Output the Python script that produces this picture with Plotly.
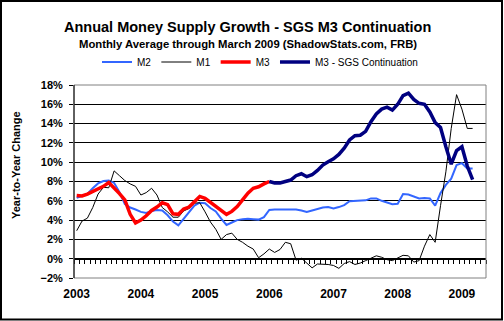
import plotly.graph_objects as go

# month index 0 = Jan 2003 ... 74 = Mar 2009
year_labels = ["2003", "2004", "2005", "2006", "2007", "2008", "2009"]
year_tick_months = [0, 12, 24, 36, 48, 60, 72]

m2 = [6.3, 6.5, 6.7, 7.3, 7.8, 8.05, 8.1, 7.85, 6.9, 5.65,
      5.3, 5.1, 4.85, 4.75, 4.95, 5.05, 5.0, 4.5, 3.85, 3.45,
      4.1, 4.85, 5.5, 5.8, 5.75, 5.25, 4.9, 4.15, 3.5, 3.75,
      4.0, 4.1, 4.15, 4.1, 4.05, 4.3, 5.05, 5.1, 5.1, 5.15,
      5.15, 5.1, 5.0, 4.85, 5.0, 5.15, 5.3, 5.35, 5.2, 5.35,
      5.55, 5.95, 6.0, 6.0, 6.05, 6.25, 6.25, 6.0, 5.8, 5.65,
      5.7, 6.7, 6.65, 6.45, 6.25, 6.3, 6.25, 5.5, 6.8, 7.65,
      8.3, 9.7, 9.9, 9.35, 9.35]

m1 = [2.9, 3.9, 4.2, 5.3, 6.7, 7.4, 7.35, 9.1, 8.6, 8.1,
      7.75, 7.5, 6.6, 6.85, 7.3, 6.6, 5.3, 4.85, 4.3, 4.3,
      4.95, 5.2, 5.75, 5.8, 4.85, 3.8, 3.05, 2.0, 2.5, 2.65,
      2.0, 1.7, 1.3, 1.0, 0.1, 0.5, 1.0, 0.65, 0.95, 1.7,
      1.55, -0.15, 0.05, -0.45, -0.95, -0.55, -0.55, -0.6, -0.7, -1.0,
      -0.5, -0.3, -0.6, -0.45, -0.2, 0.05, 0.3, 0.15, -0.1, -0.2,
      0.1, 0.35, 0.3, -0.35, -0.2, 1.3, 2.5, 1.7, 5.5, 9.0,
      13.5, 17.0, 15.5, 13.5, 13.5]

m3 = [6.55, 6.5, 6.7, 6.95, 7.2, 7.5, 7.9, 7.35, 6.75, 6.1,
      4.6, 3.7, 4.0, 4.45, 5.0, 5.35, 5.8, 5.6, 4.65, 4.6,
      5.15, 5.35, 5.95, 6.45, 6.25, 5.85, 5.45, 5.05, 4.6, 4.9,
      5.4, 6.1, 6.8, 7.3, 7.45, 7.75, 8.0]

sgs_start = 36
sgs = [8.0, 7.85, 7.85, 8.0, 8.15, 8.6, 8.8, 8.5, 8.7, 9.15,
       9.7, 10.05, 10.35, 10.8, 11.45, 12.3, 12.75, 12.8, 13.2, 14.2,
       15.0, 15.5, 15.7, 15.4, 16.0, 16.9, 17.15, 16.5, 16.1, 16.0,
       15.2, 14.1, 13.6, 11.6, 9.8, 11.2, 11.6, 9.6, 8.2]

series_names = ["M2", "M1", "M3", "M3 - SGS Continuation"]
series_colors = ["#3366FF", "#000000", "#FF0000", "#000080"]
series_widths = [2, 1, 3.5, 3.5]

FONT = "Liberation Sans, Arial, sans-serif"

fig = go.Figure()
data = [
    (list(range(len(m2))), m2),
    (list(range(len(m1))), m1),
    (list(range(len(m3))), m3),
    (list(range(sgs_start, sgs_start + len(sgs))), sgs),
]
for (xs, ys), name, col, w in zip(data, series_names, series_colors, series_widths):
    fig.add_trace(go.Scatter(x=xs, y=ys, mode="lines", name=name,
                             line=dict(color=col, width=w)))

L, R, T, B = 74, 486, 85, 278
W, H = 504, 321
pw, ph = R - L, B - T

def px_x(p):
    return (p - L) / pw

def px_y(p):
    return (B - p) / ph

fig.update_layout(
    width=W, height=H,
    margin=dict(l=L, r=W - R, t=T, b=H - B),
    paper_bgcolor="white", plot_bgcolor="white",
    font=dict(family=FONT, color="black"),
    showlegend=True,
    legend=dict(orientation="h", x=px_x(260), xanchor="center",
                y=px_y(62), yanchor="middle",
                font=dict(size=10, family=FONT),
                bgcolor="rgba(0,0,0,0)", itemwidth=30, tracegroupgap=0),
    xaxis=dict(
        range=[-0.5, 76.5],
        anchor="free", position=0.1,
        tickmode="array", tickvals=year_tick_months, ticktext=year_labels,
        ticks="", showgrid=False, zeroline=False,
        showline=True, linecolor="black", linewidth=1,
        tickfont=dict(size=12, family=FONT, weight="bold"),
        ticklabelstandoff=24,
        minor=dict(tickmode="linear", tick0=-0.5, dtick=1, ticks="outside",
                   ticklen=4, tickcolor="black", tickwidth=1, showgrid=False),
    ),
    yaxis=dict(
        range=[-2, 18], dtick=2, tick0=0,
        ticksuffix="%",
        showgrid=True, gridcolor="black", gridwidth=1,
        zeroline=False,
        ticks="outside", ticklen=4, tickcolor="black",
        showline=False,
        tickfont=dict(size=11, family=FONT, weight="bold"),
        ticklabelstandoff=4,
    ),
    shapes=[
        dict(type="rect", xref="paper", yref="paper", x0=0, x1=1, y0=0, y1=1,
             line=dict(color="#808080", width=1), layer="above"),
        dict(type="line", xref="paper", yref="paper", x0=0, x1=0, y0=0, y1=1,
             line=dict(color="black", width=1), layer="above"),
        dict(type="rect", xref="paper", yref="paper",
             x0=px_x(1), x1=px_x(502), y0=px_y(319.5), y1=px_y(1),
             line=dict(color="black", width=2), layer="above"),
    ],
    annotations=[
        dict(text="<b>Annual Money Supply Growth - SGS M3 Continuation</b>",
             xref="paper", yref="paper", x=px_x(247.5), y=px_y(27),
             xanchor="center", yanchor="middle", showarrow=False,
             font=dict(size=14.5, family=FONT)),
        dict(text="<b>Monthly Average through March 2009 (ShadowStats.com, FRB)</b>",
             xref="paper", yref="paper", x=px_x(247.5), y=px_y(44.5),
             xanchor="center", yanchor="middle", showarrow=False,
             font=dict(size=11.3, family=FONT)),
        dict(text="<b>Year-to-Year Change</b>", textangle=-90,
             xref="paper", yref="paper", x=px_x(16), y=px_y(165),
             xanchor="center", yanchor="middle", showarrow=False,
             font=dict(size=11, family=FONT)),
    ],
)

fig.write_html("out.html")
